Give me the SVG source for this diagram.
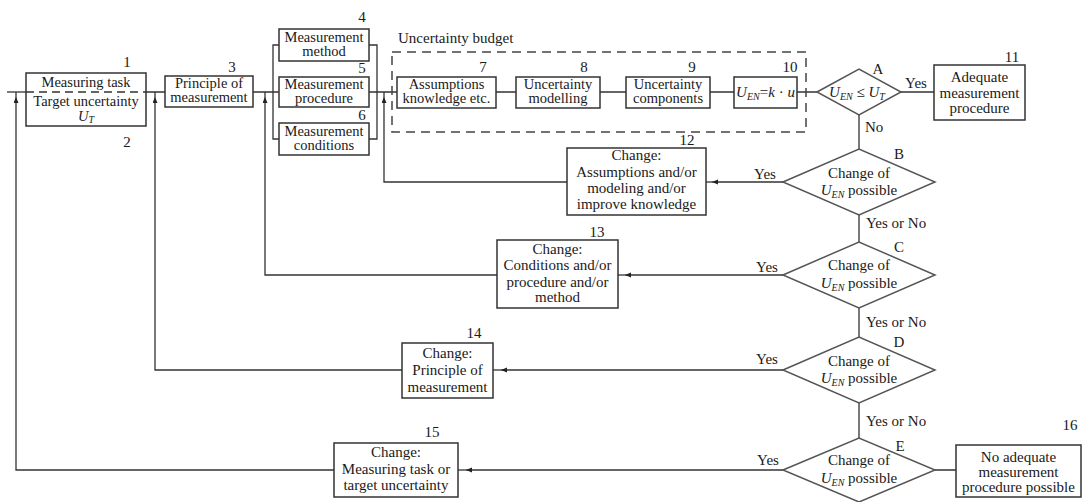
<svg xmlns="http://www.w3.org/2000/svg" width="1082" height="502" viewBox="0 0 1082 502">
<defs>
<marker id="arr" markerUnits="userSpaceOnUse" markerWidth="7" markerHeight="6" refX="6" refY="2.5" orient="auto">
<path d="M0,0 L6,2.5 L0,5 z" fill="#222"/>
</marker>
<style>
.box{fill:#fff;stroke:#333;stroke-width:1.5}
.dia{fill:#fff;stroke:#555;stroke-width:1.5}
.ln{fill:none;stroke:#333;stroke-width:1.3}
.dash{fill:none;stroke:#444;stroke-width:1.5;stroke-dasharray:9 6}
text{font-family:"Liberation Serif","Times New Roman",serif;font-size:15px;fill:#1a1a1a}
.s{font-size:14.5px}
.c{text-anchor:middle}
.i{font-style:italic}
.sub{font-size:10px;font-style:italic}
</style>
</defs>
<rect width="1082" height="502" fill="#fff"/>

<g id="connectors">
<path class="ln" d="M7,92 H26"/>
<path class="ln" d="M26,92 H146" style="stroke-dasharray:8 5"/>
<path class="ln" d="M146,92 H165 M253,92 H279 M369,92 H397 M496,92 H516 M600,92 H626 M710,92 H734 M797,92 H817 M901,92 H934"/>
<path class="ln" d="M279,45 H273 V139 H279 M369,45 H377 V139 H369"/>
<path class="ln" d="M859,115 V149 M859,215 V242 M859,308 V337 M859,403 V438 M935,470 H956"/>
<path class="ln" d="M567,182 H384 V97" marker-end="url(#arr)"/>
<path class="ln" d="M384,97 V92"/>
<path class="ln" d="M497,275 H265 V97" marker-end="url(#arr)"/>
<path class="ln" d="M265,97 V92"/>
<path class="ln" d="M402,370 H155 V97" marker-end="url(#arr)"/>
<path class="ln" d="M155,97 V92"/>
<path class="ln" d="M334,470 H16 V97" marker-end="url(#arr)"/>
<path class="ln" d="M16,97 V92"/>
<path class="ln" d="M783,182 H712" marker-end="url(#arr)"/>
<path class="ln" d="M712,182 H706"/>
<path class="ln" d="M783,275 H625" marker-end="url(#arr)"/>
<path class="ln" d="M625,275 H618"/>
<path class="ln" d="M783,370 H501" marker-end="url(#arr)"/>
<path class="ln" d="M501,370 H493"/>
<path class="ln" d="M783,470 H466" marker-end="url(#arr)"/>
<path class="ln" d="M466,470 H458"/>
</g>

<g id="budget">
<rect class="dash" x="392" y="52" width="414" height="80"/>
<text x="398" y="43">Uncertainty budget</text>
</g>

<g id="n1">
<rect class="box" x="26" y="73" width="120" height="53" style="fill:none"/>
<text class="c s" x="86" y="87">Measuring task</text>
<text class="c s" x="86" y="106">Target uncertainty</text>
<text class="c s" x="86" y="121"><tspan class="i">U</tspan><tspan class="sub" dy="2">T</tspan></text>
<text class="c" x="127" y="67">1</text>
<text class="c" x="127" y="147">2</text>
</g>

<g id="n3">
<rect class="box" x="165" y="76" width="88" height="31"/>
<text class="c s" x="209" y="88">Principle of</text>
<text class="c s" x="209" y="102">measurement</text>
<text class="c" x="232" y="72">3</text>
</g>

<g id="n4">
<rect class="box" x="279" y="29" width="90" height="32"/>
<text class="c s" x="324" y="42">Measurement</text>
<text class="c s" x="324" y="56">method</text>
<text class="c" x="362" y="22">4</text>
</g>
<g id="n5">
<rect class="box" x="279" y="77" width="90" height="30"/>
<text class="c s" x="324" y="89">Measurement</text>
<text class="c s" x="324" y="103">procedure</text>
<text class="c" x="362" y="73">5</text>
</g>
<g id="n6">
<rect class="box" x="279" y="123" width="90" height="32"/>
<text class="c s" x="324" y="136">Measurement</text>
<text class="c s" x="324" y="150">conditions</text>
<text class="c" x="362" y="120">6</text>
</g>

<g id="n7">
<rect class="box" x="397" y="77" width="99" height="31"/>
<text class="c s" x="446.5" y="89">Assumptions</text>
<text class="c s" x="446.5" y="103">knowledge etc.</text>
<text class="c" x="483" y="72">7</text>
</g>
<g id="n8">
<rect class="box" x="516" y="77" width="84" height="31"/>
<text class="c s" x="558" y="89">Uncertainty</text>
<text class="c s" x="558" y="103">modelling</text>
<text class="c" x="584" y="72">8</text>
</g>
<g id="n9">
<rect class="box" x="626" y="77" width="84" height="31"/>
<text class="c s" x="668" y="89">Uncertainty</text>
<text class="c s" x="668" y="103">components</text>
<text class="c" x="692" y="72">9</text>
</g>
<g id="n10">
<rect class="box" x="734" y="77" width="63" height="31"/>
<text class="c" x="765.5" y="97"><tspan class="i">U</tspan><tspan class="sub" dy="3">EN</tspan><tspan dy="-3">=</tspan><tspan class="i">k</tspan> · <tspan class="i">u</tspan></text>
<text class="c" x="790" y="72">10</text>
</g>

<g id="nA">
<polygon class="dia" points="817,92 859,69 901,92 859,115"/>
<text class="c" x="857" y="97"><tspan class="i">U</tspan><tspan class="sub" dy="3">EN</tspan><tspan dy="-3"> ≤ </tspan><tspan class="i">U</tspan><tspan class="sub" dy="3">T</tspan></text>
<text class="c" x="878" y="74">A</text>
<text class="c" x="916" y="88">Yes</text>
<text x="865" y="132">No</text>
</g>

<g id="n11">
<rect class="box" x="934" y="65" width="91" height="55"/>
<text class="c" x="979.5" y="82">Adequate</text>
<text class="c" x="979.5" y="98">measurement</text>
<text class="c" x="979.5" y="113">procedure</text>
<text class="c" x="1012" y="62">11</text>
</g>

<g id="nB">
<polygon class="dia" points="783,182 859,149 935,182 859,215"/>
<text class="c" x="859" y="178">Change of</text>
<text class="c" x="859" y="195"><tspan class="i">U</tspan><tspan class="sub" dy="3">EN</tspan><tspan dy="-3">  possible</tspan></text>
<text class="c" x="899" y="159">B</text>
<text class="c" x="765" y="179">Yes</text>
<text x="866" y="228">Yes or No</text>
</g>

<g id="n12">
<rect class="box" x="567" y="148" width="139" height="67"/>
<text class="c" x="636.5" y="160">Change:</text>
<text class="c" x="636.5" y="177">Assumptions and/or</text>
<text class="c" x="636.5" y="193">modeling and/or</text>
<text class="c" x="636.5" y="209">improve knowledge</text>
<text class="c" x="687" y="145">12</text>
</g>

<g id="nC">
<polygon class="dia" points="783,275 859,242 935,275 859,308"/>
<text class="c" x="859" y="270">Change of</text>
<text class="c" x="859" y="288"><tspan class="i">U</tspan><tspan class="sub" dy="3">EN</tspan><tspan dy="-3">  possible</tspan></text>
<text class="c" x="899" y="252">C</text>
<text class="c" x="767" y="272">Yes</text>
<text x="866" y="327">Yes or No</text>
</g>

<g id="n13">
<rect class="box" x="497" y="240" width="121" height="68"/>
<text class="c" x="557.5" y="254">Change:</text>
<text class="c" x="557.5" y="270">Conditions and/or</text>
<text class="c" x="557.5" y="287">procedure and/or</text>
<text class="c" x="557.5" y="302">method</text>
<text class="c" x="597" y="237">13</text>
</g>

<g id="nD">
<polygon class="dia" points="783,370 859,337 935,370 859,403"/>
<text class="c" x="859" y="366">Change of</text>
<text class="c" x="859" y="383"><tspan class="i">U</tspan><tspan class="sub" dy="3">EN</tspan><tspan dy="-3">  possible</tspan></text>
<text class="c" x="899" y="347">D</text>
<text class="c" x="767" y="364">Yes</text>
<text x="866" y="426">Yes or No</text>
</g>

<g id="n14">
<rect class="box" x="402" y="343" width="91" height="55"/>
<text class="c" x="447.5" y="358">Change:</text>
<text class="c" x="447.5" y="375">Principle of</text>
<text class="c" x="447.5" y="392">measurement</text>
<text class="c" x="474" y="338">14</text>
</g>

<g id="nE">
<polygon class="dia" points="783,470 859,438 935,470 859,502"/>
<text class="c" x="859" y="465">Change of</text>
<text class="c" x="859" y="483"><tspan class="i">U</tspan><tspan class="sub" dy="3">EN</tspan><tspan dy="-3">  possible</tspan></text>
<text class="c" x="900" y="451">E</text>
<text class="c" x="768" y="465">Yes</text>
</g>

<g id="n15">
<rect class="box" x="334" y="443" width="124" height="54"/>
<text class="c" x="396" y="457">Change:</text>
<text class="c" x="396" y="474">Measuring task or</text>
<text class="c" x="396" y="490">target uncertainty</text>
<text class="c" x="432" y="437">15</text>
</g>

<g id="n16">
<rect class="box" x="956" y="445" width="125" height="52"/>
<text class="c" x="1018.5" y="462">No adequate</text>
<text class="c" x="1018.5" y="477">measurement</text>
<text class="c" x="1018.5" y="492">procedure possible</text>
<text class="c" x="1070" y="430">16</text>
</g>
</svg>
